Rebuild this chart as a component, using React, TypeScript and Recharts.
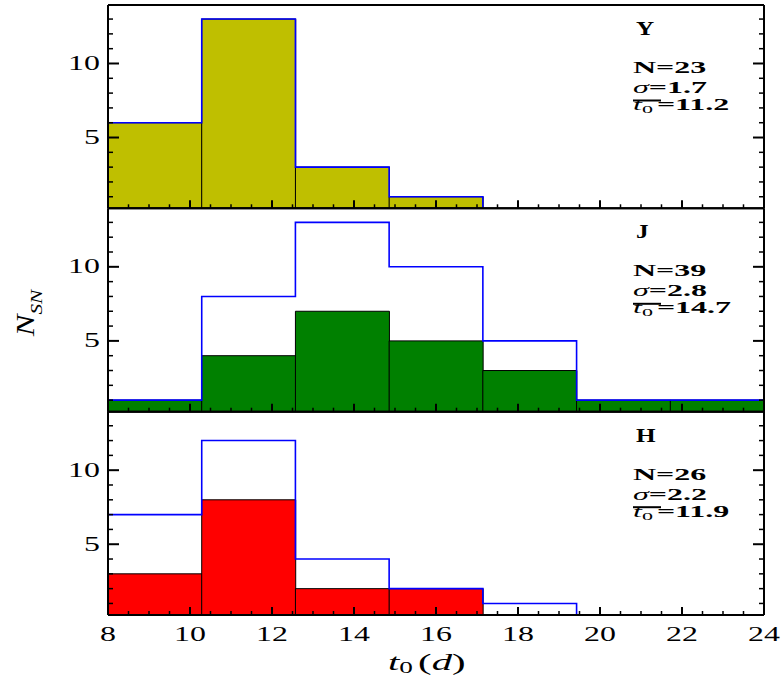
import { ComposedChart, Bar, Line, XAxis, YAxis } from 'recharts';

const SERIF = "'Liberation Serif', 'Times New Roman', serif";

// histogram bins: 7 equal bins over 8..24 days
const binEdges = [8, 10.286, 12.571, 14.857, 17.143, 19.429, 21.714, 24];

const bandNames = ['Y', 'J', 'H'];
const bandColors = ['#bfbf00', '#008000', '#ff0000'];

const yFilled = [6, 13, 3, 1, 0, 0, 0];
const yTotal = [6, 13, 3, 1, 0, 0, 0];
const jFilled = [1, 4, 7, 5, 3, 1, 1];
const jTotal = [1, 8, 13, 10, 5, 1, 1];
const hFilled = [3, 8, 2, 2, 0, 0, 0];
const hTotal = [7, 12, 4, 2, 1, 0, 0];

const nValues = [23, 39, 26];
const sigmaValues = ['1.7', '2.8', '2.2'];
const meanValues = ['11.2', '14.7', '11.9'];

const xTicks = [
  8, 8.5, 9, 9.5, 10, 10.5, 11, 11.5, 12, 12.5, 13, 13.5, 14, 14.5, 15, 15.5, 16,
  16.5, 17, 17.5, 18, 18.5, 19, 19.5, 20, 20.5, 21, 21.5, 22, 22.5, 23, 23.5, 24,
];
const yTicks = [1, 2, 3, 4, 5, 6, 7, 8, 9, 10, 11, 12, 13];
const yLabelTicks = [5, 10];

const panelTops = [5, 208.3, 411.7];
const panelBottoms = [208.3, 411.7, 615];
const PLOT_LEFT = 108;
const PLOT_RIGHT = 764;

function XTick(props: any) {
  const { x, y, payload, side, labels } = props;
  const v = payload.value;
  const major = v % 2 === 0;
  const len = major ? 8 : 4;
  const dir = side === 'bottom' ? -1 : 1;
  return (
    <g>
      <line x1={x} x2={x} y1={y} y2={y + dir * len} stroke="#000" strokeWidth={major ? 2 : 1.5} />
      {labels && major && (
        <text
          transform={`translate(${x},${y + 10.5}) scale(1.45,1)`}
          dy="0.71em"
          textAnchor="middle"
          fontFamily={SERIF}
          fontSize={22}
          fill="#000"
        >
          {v}
        </text>
      )}
    </g>
  );
}

function YTick(props: any) {
  const { x, y, payload, side, labels } = props;
  const v = payload.value;
  const major = yLabelTicks.includes(v);
  const len = major ? 11 : 5;
  const dir = side === 'left' ? 1 : -1;
  return (
    <g>
      <line x1={x} x2={x + dir * len} y1={y} y2={y} stroke="#000" strokeWidth={major ? 2 : 1.5} />
      {labels && major && (
        <text
          transform={`translate(${x - 8},${y}) scale(1.45,1)`}
          dy="0.3em"
          textAnchor="end"
          fontFamily={SERIF}
          fontSize={22}
          fill="#000"
        >
          {v}
        </text>
      )}
    </g>
  );
}

function Panel({ index }: { index: number }) {
  const filled = [yFilled, jFilled, hFilled][index];
  const total = [yTotal, jTotal, hTotal][index];
  const top = panelTops[index];
  const bottom = panelBottoms[index];
  const rows = filled.map((v, i) => ({ bin: `b${i}`, count: v > 0 ? v : null }));
  const outline = binEdges.map((x, i) => ({ x, n: total[Math.min(i, total.length - 1)] }));
  const showLabels = index === 2;
  const frame = { stroke: '#000', strokeWidth: 2 };

  return (
    <div style={{ position: 'absolute', left: 0, top: 0 }}>
      <ComposedChart
        width={784}
        height={684}
        data={rows}
        barCategoryGap={0}
        barGap={0}
        margin={{ top: top - 1, bottom: 684 - bottom - 1, left: PLOT_LEFT - 1, right: 784 - PLOT_RIGHT - 1 }}
      >
        <XAxis
          xAxisId="t"
          dataKey="x"
          type="number"
          orientation="bottom"
          domain={[8, 24]}
          allowDataOverflow
          ticks={xTicks}
          interval={0}
          height={1}
          tickSize={0}
          tickMargin={0}
          tickLine={false}
          axisLine={frame}
          tick={<XTick side="bottom" labels={showLabels} />}
        />
        <XAxis xAxisId="bins" dataKey="bin" type="category" hide height={0} />
        <XAxis
          xAxisId="tTop"
          type="number"
          orientation="top"
          domain={[8, 24]}
          allowDataOverflow
          ticks={xTicks}
          interval={0}
          height={1}
          tickSize={0}
          tickMargin={0}
          tickLine={false}
          axisLine={frame}
          tick={<XTick side="top" labels={false} />}
        />
        <YAxis
          yAxisId="n"
          type="number"
          domain={[0.22, 13.95]}
          allowDataOverflow
          ticks={yTicks}
          interval={0}
          width={1}
          tickSize={0}
          tickMargin={0}
          tickLine={false}
          axisLine={frame}
          tick={<YTick side="left" labels />}
        />
        <YAxis
          yAxisId="nRight"
          type="number"
          orientation="right"
          domain={[0.22, 13.95]}
          allowDataOverflow
          ticks={yTicks}
          interval={0}
          width={1}
          tickSize={0}
          tickMargin={0}
          tickLine={false}
          axisLine={frame}
          tick={<YTick side="right" labels={false} />}
        />
        <Bar
          xAxisId="bins"
          yAxisId="n"
          dataKey="count"
          fill={bandColors[index]}
          stroke="#000"
          strokeWidth={1}
          isAnimationActive={false}
        />
        <Line
          xAxisId="t"
          yAxisId="n"
          data={outline}
          dataKey="n"
          type="stepAfter"
          stroke="#0000ff"
          strokeWidth={1.6}
          dot={false}
          activeDot={false}
          isAnimationActive={false}
        />
      </ComposedChart>
    </div>
  );
}

function Notes() {
  return (
    <svg
      width={784}
      height={684}
      style={{ position: 'absolute', left: 0, top: 0, pointerEvents: 'none' }}
      fontFamily={SERIF}
      fill="#000"
    >
      {bandNames.map((name, i) => {
        const t = panelTops[i];
        return (
          <g key={name}>
            <text transform={`translate(636,${t + 30}) scale(1.4,1)`} fontSize={18} fontWeight="bold">
              {name}
            </text>
            <text transform={`translate(633,${t + 68}) scale(2,1)`} fontSize={16} fontWeight="bold">
              N={nValues[i]}
            </text>
            <text transform={`translate(633,${t + 88}) scale(2,1)`} fontSize={16} fontWeight="bold">
              <tspan fontStyle="italic" fontWeight="normal">σ</tspan>={sigmaValues[i]}
            </text>
            <text transform={`translate(633,${t + 105}) scale(2,1)`} fontSize={16} fontWeight="bold">
              <tspan fontStyle="italic" fontWeight="normal">t</tspan>
              <tspan fontSize={11} fontWeight="normal" dy={3}>0</tspan>
              <tspan dy={-3} dx={2}>={meanValues[i]}</tspan>
            </text>
            <line x1={633} x2={661} y1={t + 95.5} y2={t + 95.5} stroke="#000" strokeWidth={2} />
          </g>
        );
      })}
      <text transform="translate(388,670) scale(1.7,1)" fontSize={24}>
        <tspan fontStyle="italic">t</tspan>
        <tspan fontSize={16} dy={3}>0</tspan>
        <tspan dy={-3} dx={3}>(</tspan>
        <tspan fontStyle="italic">d</tspan>
        <tspan>)</tspan>
      </text>
      <text transform="translate(34,313) rotate(-90) scale(1.25,1)" textAnchor="middle" fontSize={26} fontStyle="italic">
        N<tspan fontSize={17} dy={8}>SN</tspan>
      </text>
    </svg>
  );
}

export default function App() {
  return (
    <div style={{ position: 'absolute', left: 0, top: 0, width: 784, height: 684, background: '#fff' }}>
      {[0, 1, 2].map((i) => (
        <Panel key={i} index={i} />
      ))}
      <Notes />
    </div>
  );
}
